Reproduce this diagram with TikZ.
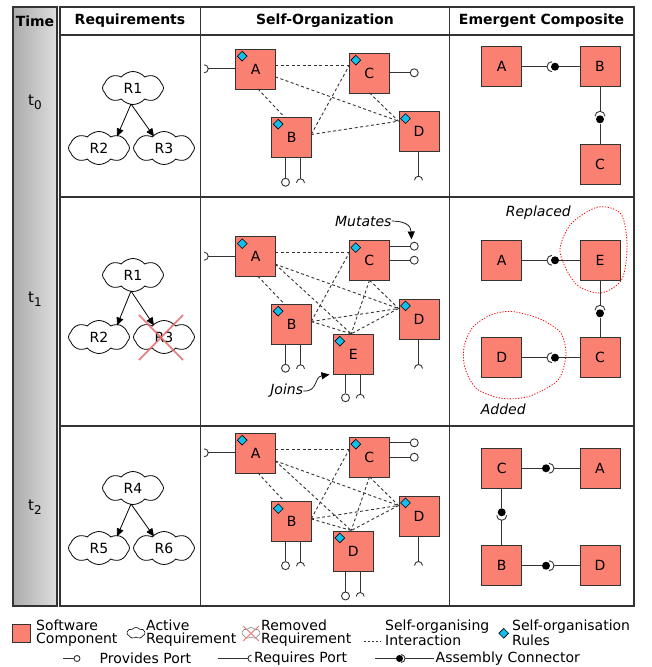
\documentclass[tikz,border=0pt]{standalone}
\usepackage{fontspec}
\setmainfont{DejaVu Sans}
\usetikzlibrary{shapes.geometric,shapes.symbols,arrows.meta,calc}
\definecolor{salmonc}{RGB}{250,128,114}
\definecolor{rulec}{RGB}{20,190,235}
\definecolor{linec}{RGB}{51,51,51}
\definecolor{xred}{RGB}{225,110,110}
\definecolor{gL}{RGB}{172,172,172}
\definecolor{gR}{RGB}{222,222,222}
\newcommand\soBase[4]{%
 \draw[inter] ([shift={(40,16.7)}]#1.north west) -- ([shift={(0,12.7)}]#3.north west);
 \draw[inter] ([shift={(40,28)}]#1.north west) -- ([shift={(0,10)}]#4.north west);
 \draw[inter] ([shift={(22.6,40)}]#1.north west) -- ([shift={(13,0)}]#2.north west);
 \draw[inter] ([shift={(40,17.7)}]#2.north west) -- ([shift={(0,13.4)}]#3.north west);
 \draw[inter] ([shift={(40,17.7)}]#2.north west) -- ([shift={(0,10)}]#4.north west);
 \draw[inter] ([shift={(20.7,40)}]#3.north west) -- ([shift={(0,10)}]#4.north west);}
\newcommand\soExtra[5]{%
 \draw[inter] ([shift={(40,28)}]#1.north west) -- ([shift={(18.4,0)}]#5.north west);
 \draw[inter] ([shift={(40,17.7)}]#2.north west) -- ([shift={(18.4,0)}]#5.north west);
 \draw[inter] ([shift={(20.7,40)}]#3.north west) -- ([shift={(18.4,0)}]#5.north west);
 \draw[inter] ([shift={(0,10)}]#4.north west) -- ([shift={(18.4,0)}]#5.north west);}
\begin{document}
\begin{tikzpicture}[x=1pt,y=-1pt,
  comp/.style={draw=linec, fill=salmonc, minimum size=40pt, inner sep=0pt, line width=1pt, font=\fontsize{14}{14}\selectfont},
  rulemk/.style={diamond, draw=black, fill=rulec, minimum size=10pt, inner sep=0pt, line width=0.6pt},
  inter/.style={dash pattern=on 3pt off 2.5pt, draw=linec, line width=0.9pt},
  port/.style={draw=linec, line width=1pt},
  provc/.style={circle, draw=linec, fill=white, minimum size=8pt, inner sep=0pt, line width=0.9pt},
  ball/.style={circle, fill=black, minimum size=8pt, inner sep=0pt},
  req/.style={cloud, cloud puffs=8, cloud puff arc=100, aspect=1.8, draw=black, fill=white, minimum width=61pt, minimum height=33pt, inner sep=0pt, line width=0.8pt, font=\fontsize{14}{14}\selectfont},
  arr/.style={-{Triangle[length=8pt,width=7pt]}, line width=0.8pt},
  hdr/.style={font=\fontsize{14}{14}\selectfont\bfseries, inner sep=0pt},
  tlab/.style={font=\fontsize{15}{15}\selectfont, inner sep=0pt},
  itl/.style={font=\fontsize{14}{14}\selectfont\itshape, inner sep=0pt},
  legt/.style={anchor=west, inner sep=0pt, align=left, font=\fontsize{14}{12.5}\selectfont},
  blob/.style={draw=red, dash pattern=on 1.2pt off 1.6pt, line width=0.8pt},
  xmark/.style={draw=xred, line width=1.8pt, opacity=0.85},
  socket/.pic={\draw[line width=0.9pt, draw=linec] (4pt,4pt) arc[start angle=90, end angle=270, radius=4pt];},
  asock/.pic={\draw[line width=0.9pt, draw=linec] (5pt,5pt) arc[start angle=90, end angle=270, radius=5pt];},
]
\useasboundingbox (0,0) rectangle (652,667);
% ---------- frame ----------
\shade[left color=gL, right color=gR] (13,7) rectangle (57,606);
\draw[linec, line width=1.2pt] (13,7) rectangle (57,606);
\draw[linec, line width=1.2pt] (60,7) rectangle (634,606);
\draw[linec, line width=1.2pt] (60,35) -- (634,35);
\draw[linec, line width=1.2pt] (60,197) -- (634,197);
\draw[linec, line width=1.2pt] (60,426) -- (634,426);
\draw[linec, line width=1.2pt] (200.7,7) -- (200.7,606);
\draw[linec, line width=1.2pt] (449.3,7) -- (449.3,606);
\node[hdr] (hTime) at (35,21) {Time};
\node[hdr] (hReq) at (130,21) {Requirements};
\node[hdr] (hSO) at (325,21) {Self-Organization};
\node[hdr] (hEC) at (541.5,21) {Emergent Composite};
\node[tlab] (tz) at (35,102) {t\raisebox{-4pt}{\fontsize{12}{12}\selectfont 0}};
\node[tlab] (to) at (35,299) {t\raisebox{-4pt}{\fontsize{12}{12}\selectfont 1}};
\node[tlab] (tt) at (35,507) {t\raisebox{-4pt}{\fontsize{12}{12}\selectfont 2}};
% ---------- requirements ----------
\node[req] (r1a) at (133,88) {R1};
\node[req] (r2a) at (99,148) {R2};
\node[req] (r3a) at (164,148) {R3};
\draw[arr] ([shift={(-2,16)}]r1a.center) -- ([shift={(18,-11.5)}]r2a.center);
\draw[arr] ([shift={(-2,16)}]r1a.center) -- ([shift={(-10,-11.5)}]r3a.center);
\node[req] (r1b) at (133,275) {R1};
\node[req] (r2b) at (99,337) {R2};
\node[req] (r3b) at (164,337) {R3};
\draw[arr] ([shift={(-2,16)}]r1b.center) -- ([shift={(18,-11.5)}]r2b.center);
\draw[arr] ([shift={(-2,16)}]r1b.center) -- ([shift={(-10,-11.5)}]r3b.center);
\draw[xmark] ([shift={(-25,-22)}]r3b.center) -- ([shift={(19,23)}]r3b.center);
\draw[xmark] ([shift={(19,-22)}]r3b.center) -- ([shift={(-25,23)}]r3b.center);
\node[req] (r4c) at (133,488) {R4};
\node[req] (r5c) at (99,548) {R5};
\node[req] (r6c) at (164,548) {R6};
\draw[arr] ([shift={(-2,16)}]r4c.center) -- ([shift={(18,-11.5)}]r5c.center);
\draw[arr] ([shift={(-2,16)}]r4c.center) -- ([shift={(-10,-11.5)}]r6c.center);
% ---------- self-organization t0 ----------
\node[comp] (sA0) at (255.7,69.3) {A};
\node[comp] (sC0) at (369.3,73.3) {C};
\node[comp] (sB0) at (291.7,137.3) {B};
\node[comp] (sD0) at (419,131.7) {D};
\soBase{sA0}{sB0}{sC0}{sD0}
\draw[port] ([shift={(0,20)}]sA0.north west) -- ++(-27,0) coordinate (pA0);
\pic[rotate=180] at (pA0) {socket};
\draw[port] ([shift={(40,20)}]sC0.north west) -- ++(21,0) node[provc, anchor=west] (pC0) {};
\draw[port] ([shift={(14.3,40)}]sB0.north west) -- ++(0,21) node[provc, anchor=north] (pB0a) {};
\draw[port] ([shift={(29.3,40)}]sB0.north west) -- ++(0,22) coordinate (pB0b);
\pic[rotate=-90] at (pB0b) {socket};
\draw[port] ([shift={(20,40)}]sD0.north west) -- ++(0,25) coordinate (pD0);
\pic[rotate=-90] at (pD0) {socket};
% ---------- self-organization t1 ----------
\node[comp] (sA1) at (255.7,256.7) {A};
\node[comp] (sC1) at (369.3,260.7) {C};
\node[comp] (sB1) at (291.7,324.3) {B};
\node[comp] (sD1) at (419,319) {D};
\node[comp] (sE1) at (353.3,354.3) {E};
\soBase{sA1}{sB1}{sC1}{sD1}
\soExtra{sA1}{sB1}{sC1}{sD1}{sE1}
\draw[port] ([shift={(0,20)}]sA1.north west) -- ++(-27,0) coordinate (pA1);
\pic[rotate=180] at (pA1) {socket};
\draw[port] ([shift={(40,6)}]sC1.north west) -- ++(21,0) node[provc, anchor=west] (pC1a) {};
\draw[port] ([shift={(40,20)}]sC1.north west) -- ++(21,0) node[provc, anchor=west] (pC1b) {};
\draw[port] ([shift={(14.3,40)}]sB1.north west) -- ++(0,20) node[provc, anchor=north] (pB1a) {};
\draw[port] ([shift={(29.3,40)}]sB1.north west) -- ++(0,21) coordinate (pB1b);
\pic[rotate=-90] at (pB1b) {socket};
\draw[port] ([shift={(20,40)}]sD1.north west) -- ++(0,26) coordinate (pD1);
\pic[rotate=-90] at (pD1) {socket};
\draw[port] ([shift={(12.7,40)}]sE1.north west) -- ++(0,19.5) node[provc, anchor=north] (pE1a) {};
\draw[port] ([shift={(27.4,40)}]sE1.north west) -- ++(0,20.5) coordinate (pE1b);
\pic[rotate=-90] at (pE1b) {socket};
\node[itl] (mut) at (363.3,221) {Mutates};
\coordinate (mutT) at (411.5,239.5);
\draw[arr, line width=0.7pt] (mut.east) .. controls (404,221) and (411,225) .. (mutT);
\node[itl] (joins) at (286.7,391) {Joins};
\coordinate (joinT) at (329.5,374.5);
\draw[arr, line width=0.7pt] (joins.east) .. controls (318,392) and (314,377) .. (joinT);
% ---------- self-organization t2 ----------
\node[comp] (sA2) at (255.7,453.3) {A};
\node[comp] (sC2) at (369.3,457.3) {C};
\node[comp] (sB2) at (291.7,521.7) {B};
\node[comp] (sD2) at (419,516) {D};
\node[comp] (sF2) at (353.3,551) {D};
\soBase{sA2}{sB2}{sC2}{sD2}
\soExtra{sA2}{sB2}{sC2}{sD2}{sF2}
\draw[port] ([shift={(0,20)}]sA2.north west) -- ++(-27,0) coordinate (pA2);
\pic[rotate=180] at (pA2) {socket};
\draw[port] ([shift={(40,6)}]sC2.north west) -- ++(21,0) node[provc, anchor=west] (pC2a) {};
\draw[port] ([shift={(40,20.4)}]sC2.north west) -- ++(21,0) node[provc, anchor=west] (pC2b) {};
\draw[port] ([shift={(14.3,40)}]sB2.north west) -- ++(0,20) node[provc, anchor=north] (pB2a) {};
\draw[port] ([shift={(29.3,40)}]sB2.north west) -- ++(0,21) coordinate (pB2b);
\pic[rotate=-90] at (pB2b) {socket};
\draw[port] ([shift={(20,40)}]sD2.north west) -- ++(0,26) coordinate (pD2);
\pic[rotate=-90] at (pD2) {socket};
\draw[port] ([shift={(12.7,40)}]sF2.north west) -- ++(0,21) node[provc, anchor=north] (pF2a) {};
\draw[port] ([shift={(27.4,40)}]sF2.north west) -- ++(0,22) coordinate (pF2b);
\pic[rotate=-90] at (pF2b) {socket};
\foreach \n in {sA0,sB0,sC0,sD0,sA1,sB1,sC1,sD1,sE1,sA2,sB2,sC2,sD2,sF2}
  \node[rulemk] (d\n) at ([shift={(7,7.4)}]\n.north west) {};
% ---------- emergent composite t0 ----------
\node[comp] (eA0) at (501.7,66.7) {A};
\node[comp] (eB0) at (600,66.7) {B};
\node[comp] (eC0) at (600,164) {C};
\coordinate (kAB0) at (547,66.7);
\draw[port] (eA0.east) -- (kAB0);
\pic at (kAB0) {asock};
\node[ball] (bAB0) at (555,66.7) {};
\draw[port] (eB0.west) -- (bAB0);
\coordinate (kBC0) at (600,111.3);
\draw[port] (eB0.south) -- (kBC0);
\pic[rotate=-90] at (kBC0) {asock};
\node[ball] (bBC0) at (600,119.3) {};
\draw[port] (eC0.north) -- (bBC0);
% ---------- emergent composite t1 ----------
\draw[blob] plot[smooth cycle] coordinates {(560,252) (571,224) (598,207) (621,214) (627,245) (622,279) (601,293) (576,284)};
\draw[blob] plot[smooth cycle] coordinates {(562,335) (566,355) (558,380) (530,396) (503,398.5) (477,389) (465,368) (464,347) (473,327) (492,314.5) (512,311.5) (538,318) (554,327)};
\node[comp] (eA1) at (501.7,260.3) {A};
\node[comp] (eE1) at (600,260.3) {E};
\node[comp] (eD1) at (501.7,357.7) {D};
\node[comp] (eC1) at (600,357.7) {C};
\coordinate (kAE1) at (547,260.3);
\draw[port] (eA1.east) -- (kAE1);
\pic at (kAE1) {asock};
\node[ball] (bAE1) at (555,260.3) {};
\draw[port] (eE1.west) -- (bAE1);
\coordinate (kEC1) at (600,305.3);
\draw[port] (eE1.south) -- (kEC1);
\pic[rotate=-90] at (kEC1) {asock};
\node[ball] (bEC1) at (600,313.3) {};
\draw[port] (eC1.north) -- (bEC1);
\coordinate (kDC1) at (547,357.7);
\draw[port] (eD1.east) -- (kDC1);
\pic at (kDC1) {asock};
\node[ball] (bDC1) at (555,357.7) {};
\draw[port] (eC1.west) -- (bDC1);
\node[itl] (repl) at (538.3,212.5) {Replaced};
\node[itl] (addd) at (503.3,409) {Added};
% ---------- emergent composite t2 ----------
\node[comp] (eC2) at (501.7,468.3) {C};
\node[comp] (eA2) at (600,468.3) {A};
\node[comp] (eB2) at (501.7,565.7) {B};
\node[comp] (eD2) at (600,565.7) {D};
\coordinate (kCA2) at (554,468.3);
\draw[port] (eA2.west) -- (kCA2);
\pic[rotate=180] at (kCA2) {asock};
\node[ball] (bCA2) at (546,468.3) {};
\draw[port] (eC2.east) -- (bCA2);
\coordinate (kCB2) at (501.7,520.3);
\draw[port] (eB2.north) -- (kCB2);
\pic[rotate=90] at (kCB2) {asock};
\node[ball] (bCB2) at (501.7,512.3) {};
\draw[port] (eC2.south) -- (bCB2);
\coordinate (kBD2) at (554,565.7);
\draw[port] (eD2.west) -- (kBD2);
\pic[rotate=180] at (kBD2) {asock};
\node[ball] (bBD2) at (546,565.7) {};
\draw[port] (eB2.east) -- (bBD2);
% ---------- legend ----------
\node[comp, minimum size=17.5pt] (lgComp) at (21.7,633.7) {};
\node[legt] (lgCompT) at (36,633) {Software\\Component};
\node[req, minimum width=18pt, minimum height=11pt, cloud puffs=7, line width=0.6pt] (lgCloud) at (136,633) {};
\node[legt] (lgCloudT) at (146,633) {Active\\Requirement};
\node[req, minimum width=18pt, minimum height=11pt, cloud puffs=7, line width=0.6pt, draw=gray] (lgCloudX) at (251,633) {};
\draw[xmark, line width=1pt] ([shift={(-8,-7)}]lgCloudX.center) -- ([shift={(8,8)}]lgCloudX.center);
\draw[xmark, line width=1pt] ([shift={(8,-7)}]lgCloudX.center) -- ([shift={(-8,8)}]lgCloudX.center);
\node[legt] (lgCloudXT) at (261,633) {Removed\\Requirement};
\coordinate (lgI1) at (363.7,641);
\coordinate (lgI2) at (380.3,641);
\draw[inter, dash pattern=on 2pt off 2pt] (lgI1) -- (lgI2);
\node[legt] (lgIT) at (385,633) {Self-organising\\Interaction};
\node[rulemk] (lgRule) at (503.7,633.3) {};
\node[legt] (lgRuleT) at (512,633) {Self-organisation\\Rules};
\coordinate (lgP1) at (63,658.5);
\node[provc, minimum size=6pt] (lgPc) at (77,658.5) {};
\draw[port] (lgP1) -- (lgPc.west);
\node[legt] (lgPT) at (99.5,658.5) {Provides Port};
\coordinate (lgR1) at (218,658.5);
\coordinate (lgR2) at (248,658.5);
\draw[port] (lgR1) -- (lgR2);
\pic[scale=0.85] at (lgR2) {socket};
\node[legt] (lgRT) at (254,658.5) {Requires Port};
\coordinate (lgA1) at (375,658.5);
\coordinate (lgA2) at (405,658.5);
\coordinate (lgA3) at (434,658.5);
\draw[port] (lgA2) -- (lgA3);
\pic[rotate=180, scale=0.8] at (lgA2) {asock};
\node[ball, minimum size=7pt] (lgBall) at (399.5,658.5) {};
\draw[port] (lgA1) -- (lgBall);
\node[legt] (lgAT) at (435.5,658.5) {Assembly Connector};
\end{tikzpicture}
\end{document}
